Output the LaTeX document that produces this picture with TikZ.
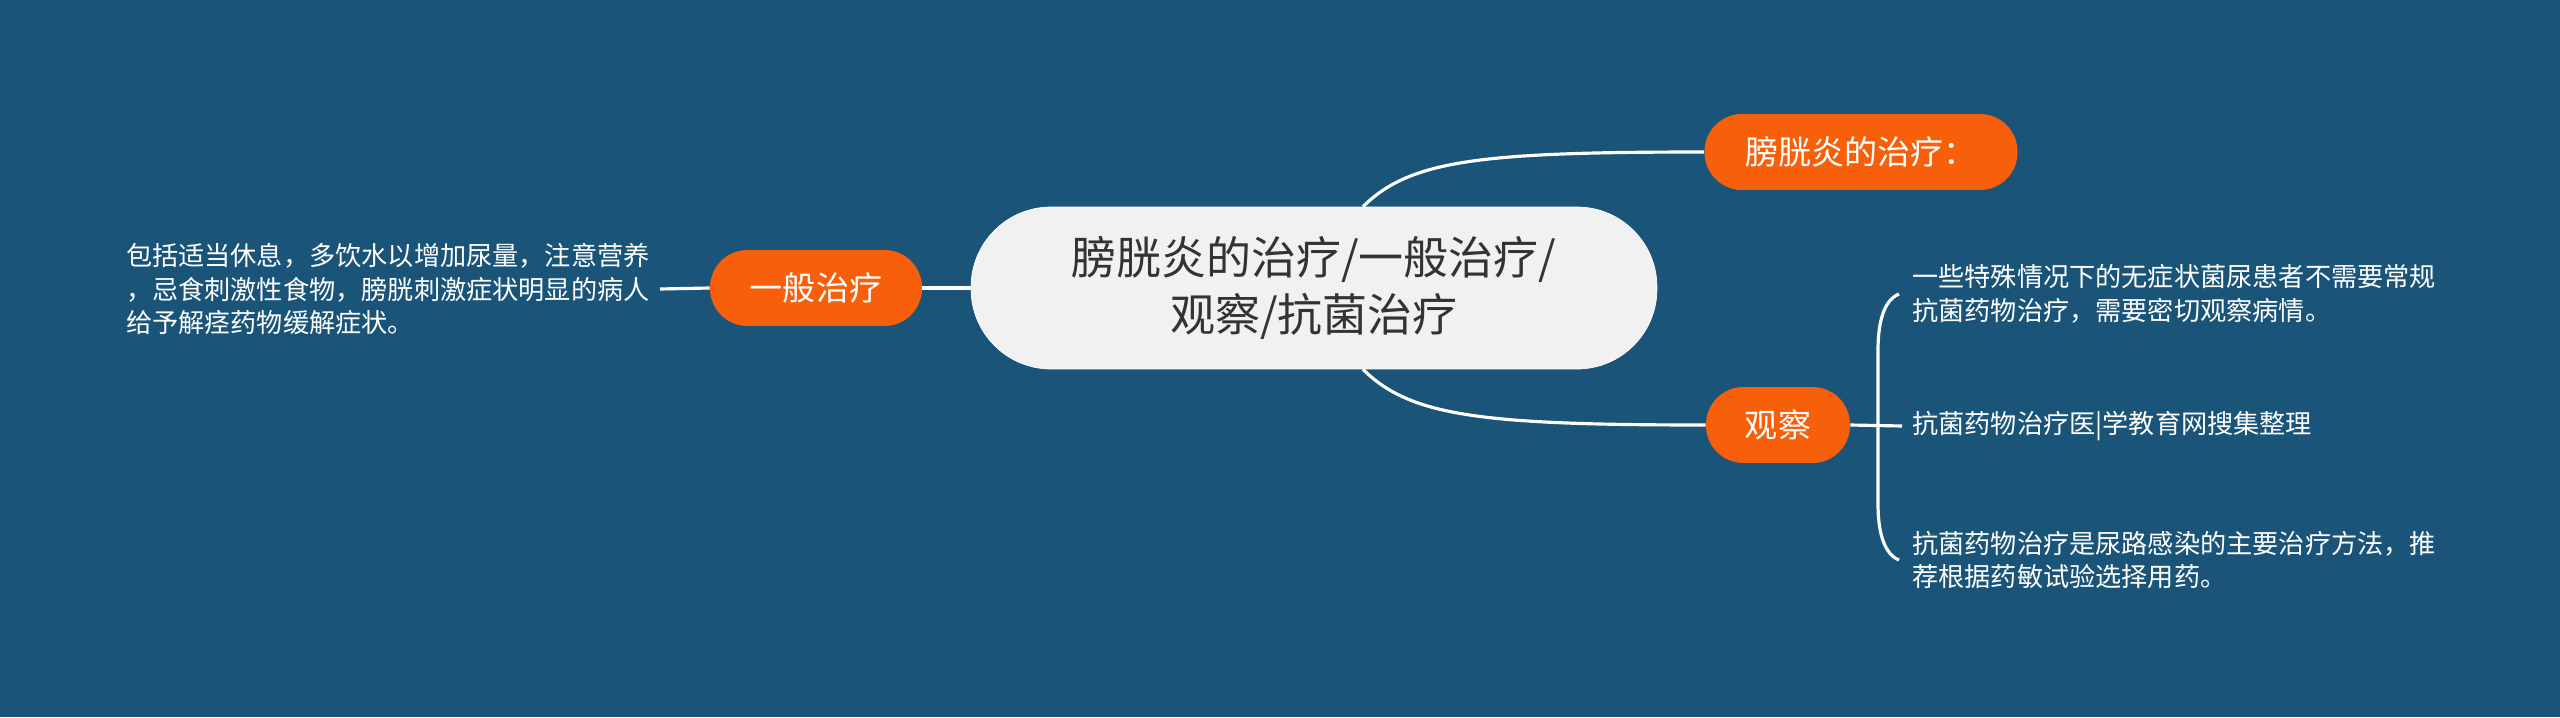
\documentclass[tikz,border=0pt]{standalone}
\usepackage{fontspec}
\newfontfamily\cjk{Noto Sans CJK SC}
\usetikzlibrary{positioning}
\definecolor{bgblue}{HTML}{1A5579}
\definecolor{mmorange}{HTML}{F75F0A}
\definecolor{topicgray}{HTML}{F1F1F1}
\definecolor{topictext}{HTML}{333333}

\begin{document}
\begin{tikzpicture}[
		x=0.02cm, y=-0.02cm,
		topic/.style={draw=white, fill=topicgray, text=topictext, rounded corners=1.6cm, minimum width=13.72cm, minimum height=3.24cm, align=center, inner sep=0pt, font=\cjk\fontsize{25.6}{32.4}\selectfont},
		branch/.style={fill=mmorange, text=white, rounded corners=0.75cm, minimum height=1.52cm, inner sep=0pt, font=\cjk\fontsize{18.8}{22}\selectfont},
		leaf/.style={text=white, align=left, inner xsep=0.2cm, inner ysep=0pt, font=\cjk\fontsize{14.9}{19.1}\selectfont},
		link/.style={draw=white, line width=1.8pt},
	]
	\fill[bgblue] (0,0) rectangle (2560,717);
	\useasboundingbox (0,0) rectangle (2560,717);

	\node[topic] (root) at (1314,288) {膀胱炎的治疗/一般治疗/\\观察/抗菌治疗};
	\node[branch, minimum width=4.24cm] (general) at (816,288) {一般治疗};
	\node[branch, minimum width=6.26cm] (plan) at (1861,152) {膀胱炎的治疗：};
	\node[branch, minimum width=2.88cm] (watch) at (1778,425) {观察};

	\node[leaf, anchor=east] (rest) at (660,289) {包括适当休息，多饮水以增加尿量，注意营养\\，忌食刺激性食物，膀胱刺激症状明显的病人\\给予解痉药物缓解症状。};
	\node[leaf, anchor=west] (nosym) at (1902,294) {一些特殊情况下的无症状菌尿患者不需要常规\\抗菌药物治疗，需要密切观察病情。};
	\node[leaf, anchor=west] (source) at (1902,426) {抗菌药物治疗医|学教育网搜集整理};
	\node[leaf, anchor=west] (drug) at (1902,560) {抗菌药物治疗是尿路感染的主要治疗方法，推\\荐根据药敏试验选择用药。};

	\draw[link] (rest.east) -- (general.west);
	\draw[link] (general.east) -- (root.west);
	\draw[link] ([xshift=0.98cm]root.north) .. controls (1410,160) and (1480,152) .. (plan.west);
	\draw[link] ([xshift=0.98cm]root.south) .. controls (1410,416) and (1480,425) .. (watch.west);
	\draw[link] (watch.east) -- (source.west);
	% bracket
	\draw[link] ([xshift=-0.06cm]nosym.west) .. controls (1884,300) and (1878,322) .. (1878,350)
		-- (1878,504) .. controls (1878,532) and (1884,554) .. ([xshift=-0.06cm]drug.west);
\end{tikzpicture}
\end{document}
